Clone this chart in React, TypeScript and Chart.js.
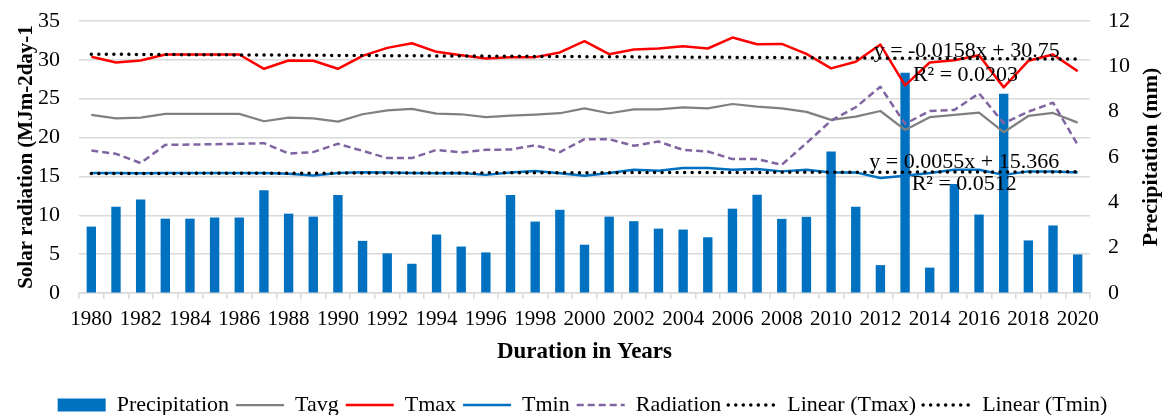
import React, { useEffect, useRef } from "react";
import { Chart, registerables } from "chart.js";

Chart.register(...registerables);

const years = [
  "1980", "1981", "1982", "1983", "1984", "1985", "1986", "1987", "1988", "1989",
  "1990", "1991", "1992", "1993", "1994", "1995", "1996", "1997", "1998", "1999",
  "2000", "2001", "2002", "2003", "2004", "2005", "2006", "2007", "2008", "2009",
  "2010", "2011", "2012", "2013", "2014", "2015", "2016", "2017", "2018", "2019", "2020",
];

const precipitation = [
  2.93, 3.81, 4.13, 3.28, 3.28, 3.33, 3.33, 4.53, 3.5, 3.37,
  4.32, 2.3, 1.75, 1.29, 2.58, 2.05, 1.79, 4.32, 3.15, 3.67,
  2.13, 3.37, 3.17, 2.84, 2.8, 2.46, 3.72, 4.34, 3.27, 3.36,
  6.24, 3.8, 1.23, 9.72, 1.12, 4.81, 3.46, 8.79, 2.32, 2.98, 1.7,
];

const tavg = [
  22.91, 22.48, 22.57, 23.04, 23.04, 23.04, 23.04, 22.1, 22.57, 22.48,
  22.05, 23.0, 23.51, 23.68, 23.08, 23.0, 22.62, 22.82, 22.95, 23.13,
  23.77, 23.13, 23.64, 23.64, 23.9, 23.77, 24.32, 23.98, 23.77, 23.3,
  22.27, 22.69, 23.42, 20.99, 22.62, 22.91, 23.21, 20.69, 22.78, 23.17, 21.92,
];

const tmax = [
  30.39, 29.66, 29.92, 30.69, 30.69, 30.69, 30.69, 28.85, 29.92, 29.88,
  28.85, 30.51, 31.54, 32.14, 31.03, 30.6, 30.18, 30.35, 30.35, 30.95,
  32.4, 30.73, 31.33, 31.46, 31.76, 31.46, 32.87, 32.01, 32.05, 30.77,
  28.9, 29.75, 31.97, 26.72, 29.66, 29.96, 30.6, 26.46, 29.88, 30.69, 28.55,
];

const tmin = [
  15.43, 15.43, 15.4, 15.45, 15.45, 15.45, 15.45, 15.45, 15.35, 15.13,
  15.43, 15.55, 15.5, 15.45, 15.4, 15.45, 15.2, 15.5, 15.7, 15.4,
  15.09, 15.43, 15.86, 15.73, 16.08, 16.08, 15.86, 15.95, 15.65, 15.86,
  15.52, 15.52, 14.79, 15.09, 15.43, 15.86, 15.86, 15.2, 15.65, 15.65, 15.52,
];

const radiation = [
  18.33, 17.91, 16.72, 19.06, 19.1, 19.15, 19.2, 19.28, 17.95, 18.13,
  19.2, 18.3, 17.36, 17.36, 18.42, 18.08, 18.42, 18.46, 19.02, 18.13,
  19.79, 19.79, 18.94, 19.49, 18.42, 18.21, 17.23, 17.23, 16.5, 19.28,
  22.18, 23.9, 26.54, 21.76, 23.42, 23.55, 25.69, 21.85, 23.34, 24.49, 19.06,
];

// Trend line end values (first and last year)
const tmaxTrendEnds = [30.73, 30.1];
const tminTrendEnds = [15.37, 15.59];

const trendLabels = ["y = -0.0158x + 30.75", "R² = 0.0203", "y = 0.0055x + 15.366", "R² = 0.0512"];

const leftTicks = [0, 5, 10, 15, 20, 25, 30, 35];
const rightTicks = [0, 2, 4, 6, 8, 10, 12];

const FONT = "'Liberation Serif', 'Times New Roman', serif";

// annotation anchor positions (category index, left-axis value)
const annotationAnchors = [
  { i: 35.5, v: 31.15 },
  { i: 35.45, v: 28.04 },
  { i: 35.4, v: 16.88 },
  { i: 35.4, v: 13.94 },
];

const annotationPlugin = {
  id: "trendText",
  afterDatasetsDraw(chart: any) {
    const { ctx, scales } = chart;
    ctx.save();
    ctx.font = `22px ${FONT}`;
    ctx.fillStyle = "#000";
    ctx.textAlign = "center";
    ctx.textBaseline = "middle";
    trendLabels.forEach((t, k) => {
      const a = annotationAnchors[k];
      const x = scales.x.getPixelForValue(a.i);
      const y = scales.y.getPixelForValue(a.v);
      ctx.fillText(t, x, y);
    });
    ctx.restore();
  },
};

const rightTitlePlugin = {
  id: "rightTitle",
  afterDraw(chart: any) {
    const { ctx, chartArea } = chart;
    ctx.save();
    ctx.font = `bold 22px ${FONT}`;
    ctx.fillStyle = "#000";
    ctx.textAlign = "center";
    ctx.textBaseline = "middle";
    ctx.translate(1151, (chartArea.top + chartArea.bottom) / 2);
    ctx.rotate(-Math.PI / 2);
    ctx.fillText("Precipitation (mm)", 0, 0);
    ctx.restore();
  },
};

export default function App() {
  const ref = useRef<HTMLCanvasElement>(null);

  useEffect(() => {
    if (!ref.current) return;
    Chart.defaults.font.family = FONT;
    Chart.defaults.color = "#000";
    const last = years.length - 1;
    const defaultGen = (Chart.defaults.plugins.legend.labels as any).generateLabels;
    const chart = new Chart(ref.current, {
      type: "bar",
      data: {
        labels: years,
        datasets: [
          {
            type: "bar",
            label: "Precipitation",
            data: precipitation,
            yAxisID: "y1",
            backgroundColor: "#0070C0",
            borderWidth: 0,
            barPercentage: 0.38,
            categoryPercentage: 1,
            order: 10,
            pointStyle: "rect",
          } as any,
          {
            type: "line",
            label: "Tavg",
            data: tavg,
            yAxisID: "y",
            borderColor: "#808080",
            backgroundColor: "#808080",
            borderWidth: 2.25,
            pointRadius: 0,
            tension: 0,
            borderJoinStyle: "round",
            pointStyle: "line",
            order: 4,
          },
          {
            type: "line",
            label: "Tmax",
            data: tmax,
            yAxisID: "y",
            borderColor: "#FF0000",
            backgroundColor: "#FF0000",
            borderWidth: 2.5,
            pointRadius: 0,
            tension: 0,
            borderJoinStyle: "round",
            pointStyle: "line",
            order: 3,
          },
          {
            type: "line",
            label: "Tmin",
            data: tmin,
            yAxisID: "y",
            borderColor: "#0070C0",
            backgroundColor: "#0070C0",
            borderWidth: 2.5,
            pointRadius: 0,
            tension: 0,
            borderJoinStyle: "round",
            pointStyle: "line",
            order: 5,
          },
          {
            type: "line",
            label: "Radiation",
            data: radiation,
            yAxisID: "y",
            borderColor: "#8064A2",
            backgroundColor: "#8064A2",
            borderWidth: 2.5,
            borderDash: [7, 4],
            pointRadius: 0,
            tension: 0,
            borderJoinStyle: "round",
            pointStyle: "line",
            order: 2,
          },
          {
            type: "line",
            label: "Linear (Tmax)",
            data: [
              { x: years[0], y: tmaxTrendEnds[0] },
              { x: years[last], y: tmaxTrendEnds[1] },
            ],
            yAxisID: "y",
            borderColor: "#000",
            backgroundColor: "#000",
            borderWidth: 3.5,
            borderDash: [0.01, 7.5],
            borderCapStyle: "round",
            pointRadius: 0,
            pointStyle: "line",
            order: 1,
          } as any,
          {
            type: "line",
            label: "Linear (Tmin)",
            data: [
              { x: years[0], y: tminTrendEnds[0] },
              { x: years[last], y: tminTrendEnds[1] },
            ],
            yAxisID: "y",
            borderColor: "#000",
            backgroundColor: "#000",
            borderWidth: 3.5,
            borderDash: [0.01, 7.5],
            borderCapStyle: "round",
            pointRadius: 0,
            pointStyle: "line",
            order: 1,
          } as any,
        ],
      },
      options: {
        responsive: false,
        animation: false,
        devicePixelRatio: 1,
        layout: { padding: { top: 21, left: 0, right: 0, bottom: 0 } },
        plugins: {
          legend: {
            position: "bottom",
            labels: {
              usePointStyle: true,
              pointStyleWidth: 48,
              boxHeight: 13,
              padding: 7,
              font: { size: 22, family: FONT },
              color: "#000",
              sort: (a: any, b: any) => a.datasetIndex - b.datasetIndex,
              generateLabels: (ch: any) => {
                const items = defaultGen(ch);
                items.forEach((it: any) => {
                  const ds = ch.data.datasets[it.datasetIndex];
                  if (ds.type === "line") {
                    it.lineDash = ds.borderDash || [];
                    it.lineCap = ds.borderCapStyle || "butt";
                    it.lineWidth = ds.borderWidth;
                    it.strokeStyle = ds.borderColor;
                  }
                });
                return items;
              },
            },
          },
          tooltip: { enabled: false },
        },
        scales: {
          x: {
            type: "category",
            offset: true,
            grid: {
              display: true,
              drawOnChartArea: false,
              drawTicks: true,
              tickLength: 6,
              offset: true,
              color: "#d9d9d9",
              lineWidth: 1.5,
            },
            border: { display: true, color: "#d9d9d9", width: 1.5 },
            ticks: {
              autoSkip: false,
              maxRotation: 0,
              minRotation: 0,
              padding: 8,
              font: { size: 21, family: FONT },
              color: "#000",
              callback: (_v: any, i: number) => (i % 2 === 0 ? years[i] : ""),
            },
            title: {
              display: true,
              text: "Duration in Years",
              font: { size: 23, weight: "bold", family: FONT },
              color: "#000",
              padding: { top: 4, bottom: 21 },
            },
            afterFit: (s: any) => {
              s.height = 94;
            },
          },
          y: {
            type: "linear",
            position: "left",
            min: 0,
            max: 35,
            afterBuildTicks: (s: any) => {
              s.ticks = leftTicks.map((v) => ({ value: v }));
            },
            grid: {
              color: "#d9d9d9",
              lineWidth: 1.5,
              drawTicks: true,
              tickLength: 19,
              tickColor: "rgba(0,0,0,0)",
            },
            border: { display: false },
            ticks: { padding: 0, font: { size: 22, family: FONT }, color: "#000" },
            title: {
              display: true,
              text: "Solar radiation (MJm-2day-1",
              font: { size: 21, weight: "bold", family: FONT },
              color: "#000",
              padding: { top: 14, bottom: 0 },
            },
            afterFit: (s: any) => {
              s.width = 79;
            },
          },
          y1: {
            type: "linear",
            position: "right",
            min: 0,
            max: 12,
            afterBuildTicks: (s: any) => {
              s.ticks = rightTicks.map((v) => ({ value: v }));
            },
            grid: {
              display: true,
              drawOnChartArea: false,
              drawTicks: true,
              tickLength: 18,
              tickColor: "rgba(0,0,0,0)",
              color: "rgba(0,0,0,0)",
            },
            border: { display: false },
            ticks: { padding: 0, font: { size: 22, family: FONT }, color: "#000" },
            afterFit: (s: any) => {
              s.width = 75;
            },
          },
        },
      } as any,
      plugins: [annotationPlugin, rightTitlePlugin],
    });
    return () => chart.destroy();
  }, []);

  return (
    <div
      style={{
        position: "fixed",
        left: 0,
        top: 0,
        width: 1165,
        height: 415,
        overflow: "hidden",
        background: "#fff",
      }}
    >
      <canvas ref={ref} width={1165} height={426} style={{ display: "block", width: 1165, height: 426 }} />
    </div>
  );
}
